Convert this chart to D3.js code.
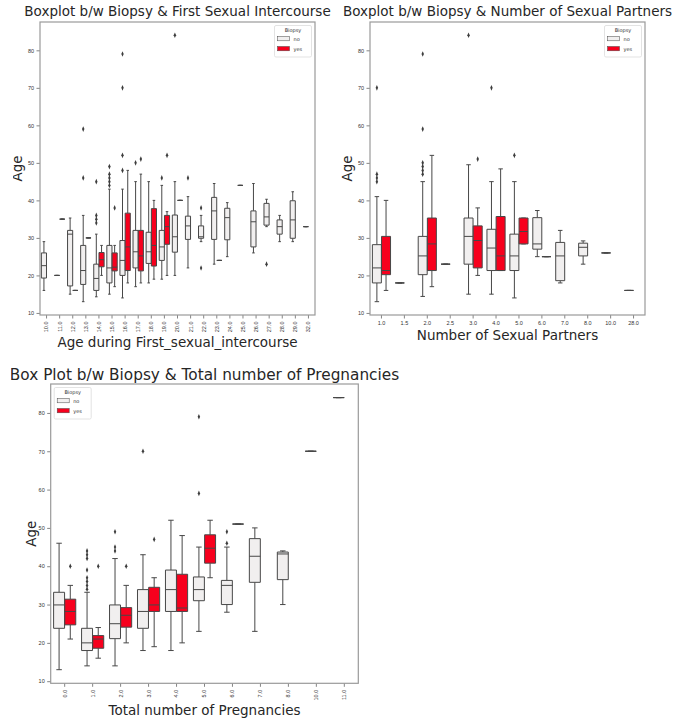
<!DOCTYPE html>
<html>
<head>
<meta charset="utf-8">
<script src="https://cdn.jsdelivr.net/npm/d3@7"></script>
<style>
  body { margin: 0; background: #fff; }
  svg { display: block; font-family: "DejaVu Sans", sans-serif; }
</style>
</head>
<body>
<svg id="chart" width="675" height="721"></svg>
<script>
// box stats are [lower whisker, q1, median, q3, upper whisker], null = no box

// Age during first sexual intercourse
const firstCats = ['10.0', '11.0', '12.0', '13.0', '14.0', '15.0', '16.0', '17.0', '18.0', '19.0', '20.0',
  '21.0', '22.0', '23.0', '24.0', '25.0', '26.0', '27.0', '28.0', '29.0', '32.0'];
const firstNo = [
  [16, 19.3, 22.6, 26, 29], [20, 20, 20, 20, 20], [15, 17.2, 31, 32, 35.3], [13, 17.6, 21.3, 28, 36],
  [14.3, 16, 19.2, 23, 31], [15, 18, 22, 28, 43], [14, 20, 24, 29.3, 43], [17, 22, 26.3, 32, 45],
  [18, 23.2, 26.3, 31.5, 45], [19, 24, 27.6, 32, 44], [20, 26.2, 30.3, 36.1, 45], [22, 29.6, 33.2, 35.8, 41],
  [29, 29.9, 30.3, 33.2, 36], [23, 29.6, 37.2, 40.8, 44.5], [25, 29.5, 35.4, 37.9, 39.4], [44, 44, 44, 44, 44],
  [26, 27.6, 34.3, 37.2, 44.5], [33, 33.4, 35.6, 39.2, 40.3], [29, 31, 33, 34.8, 36], [29, 29.9, 34.8, 39.9, 42.3],
  [33, 33, 33, 33, 33]];
const firstNoOut = [[], [], [], [46, 59], [34, 35, 36, 45], [44, 45, 46, 47, 49], [48, 52, 70, 79], [50], [], [46],
  [84], [46], [22, 38], [], [], [], [], [23], [], [], []];
const firstYes = [
  null, [35, 35, 35, 35, 35], [16, 16, 16, 16, 16], [30, 30, 30, 30, 30], [20, 22.3, 24.2, 26.1, 28],
  [17, 21.2, 22.2, 26, 28], [18, 21.3, 27.6, 36.6, 48], [18, 21.2, 25.2, 32, 47], [19, 22.5, 28, 37.8, 40],
  [20, 28.3, 33, 36, 37], [40, 40, 40, 40, 40], null, null, [24, 24, 24, 24, 24], null, null, null, null, null, null, null];
const firstYesOut = [[], [], [], [], [], [38], [], [51], [], [52], [], [], [], [], [], [], [], [], [], [], []];

// Number of sexual partners
const partnerCats = ['1.0', '1.5', '2.0', '2.5', '3.0', '4.0', '5.0', '6.0', '7.0', '8.0', '10.0', '28.0'];
const partnerNo = [
  [13, 18, 22, 28.2, 41], [18, 18, 18, 18, 18], [14.4, 20.2, 25.2, 30.4, 45], [23, 23, 23, 23, 23],
  [15, 23, 30.4, 35.3, 49.5], [15, 21.3, 27.3, 32.3, 45], [14, 21.3, 25.2, 31, 45], [25, 27, 28.4, 35.4, 37.3],
  [18, 18.6, 25.2, 28.8, 32], [23, 25.2, 27.5, 28.6, 29.2], [26, 26, 26, 26, 26], [16, 16, 16, 16, 16]];
const partnerNoOut = [[45, 46, 47, 70], [], [47, 48, 49, 50, 59, 79], [], [84], [70], [52], [], [], [], [], []];
const partnerYes = [
  [16, 20.2, 21.3, 30.4, 40], null, [17, 21.3, 28.4, 35.3, 52], null, [20, 22, 29.3, 33.2, 38],
  [21.3, 21.3, 25.2, 35.7, 48.4], [28.4, 28.4, 31.7, 35.3, 35.3], [25, 25, 25, 25, 25], null, null, null, null];
const partnerYesOut = [[], [], [], [], [51], [], [], [], [], [], [], []];

// Total number of pregnancies
const pregCats = ['0.0', '1.0', '2.0', '3.0', '4.0', '5.0', '6.0', '7.0', '8.0', '10.0', '11.0'];
const pregNo = [
  [13, 23.8, 29.9, 33.2, 46], [14, 18, 20, 23.8, 33.2], [14, 21.1, 25, 29.9, 42], [18, 23.8, 28.2, 33.9, 43],
  [18, 28.2, 33.9, 39, 52], [23, 31, 33.9, 37.2, 45], [28, 30, 35, 36.3, 45], [23, 35.8, 42.6, 47.2, 50],
  [30, 36.5, 43.2, 43.7, 44], [70, 70, 70, 70, 70], [84, 84, 84, 84, 84]];
const pregNoOut = [[], [34, 35, 36, 37, 39, 42, 43, 44], [44, 45, 49], [70], [], [59, 79], [46, 49], [], [], [], []];
const pregYes = [
  [21, 24.7, 28.2, 31.4, 35], [16, 18.6, 21, 21.9, 24], [20, 24.1, 27.2, 29.2, 35], [19, 28.2, 29.9, 34.5, 37],
  [20, 28.2, 29.1, 37.9, 48], [37, 40.8, 44.7, 48.2, 52], [51, 51, 51, 51, 51], null, null, null, null];
const pregYesOut = [[40], [40], [40], [47], [], [], [], [], [], [], []];

const yTicks = [10, 20, 30, 40, 50, 60, 70, 80];
const ageDomain = [9.45, 87.55];

const colorNo = '#f1efef';
const colorYes = '#f7001d';
const lineColor = '#474747';

const svg = d3.select('#chart');
const defs = svg.append('defs');

function drawBoxplot(o) {
  // the screenshot crops each figure on its left side
  defs.append('clipPath').attr('id', o.id)
    .append('rect').attr('x', o.clipX).attr('y', 0).attr('width', 675 - o.clipX).attr('height', 721);
  const g = svg.append('g').attr('clip-path', `url(#${o.id})`);

  const x = d3.scaleBand().domain(o.cats).range([o.left, o.right]);
  const y = d3.scaleLinear().domain(ageDomain).range([o.bottom, o.top]);
  const bw = x.bandwidth();
  const boxW = bw * 0.4 * 0.98;

  // axes
  const yAxis = g.append('g')
    .attr('transform', `translate(${o.left},0)`)
    .call(d3.axisLeft(y).tickValues(yTicks).tickSize(3.5).tickPadding(2.5));
  yAxis.selectAll('text').attr('font-size', 5.5).attr('fill', '#333');

  const xAxis = g.append('g')
    .attr('transform', `translate(0,${o.bottom})`)
    .call(d3.axisBottom(x).tickSize(3.5).tickPadding(2.5));
  xAxis.selectAll('text').attr('font-size', 5.5).attr('fill', '#333');
  if (o.rotate) {
    xAxis.selectAll('text')
      .attr('transform', 'rotate(-90)')
      .attr('text-anchor', 'end')
      .attr('dy', '0.35em')
      .attr('x', -6.5)
      .attr('y', 0);
  }
  g.selectAll('.domain').remove();
  g.selectAll('.tick line').attr('stroke', '#666').attr('stroke-width', 0.8);

  // boxes
  const series = [
    { stats: o.no, out: o.noOut, off: -0.2, fill: colorNo },
    { stats: o.yes, out: o.yesOut, off: 0.2, fill: colorYes }
  ];
  series.forEach(s => {
    o.cats.forEach((c, i) => {
      const st = s.stats[i];
      const cx = x(c) + bw / 2 + s.off * bw;
      if (st) {
        const [lo, q1, med, q3, hi] = st;
        const bg = g.append('g').attr('stroke', lineColor).attr('stroke-width', 1).attr('fill', 'none');
        bg.append('line').attr('x1', cx).attr('x2', cx).attr('y1', y(q3)).attr('y2', y(hi));
        bg.append('line').attr('x1', cx).attr('x2', cx).attr('y1', y(q1)).attr('y2', y(lo));
        bg.append('line').attr('x1', cx - boxW / 4).attr('x2', cx + boxW / 4).attr('y1', y(hi)).attr('y2', y(hi));
        bg.append('line').attr('x1', cx - boxW / 4).attr('x2', cx + boxW / 4).attr('y1', y(lo)).attr('y2', y(lo));
        const p = d3.path();
        p.rect(cx - boxW / 2, y(q3), boxW, y(q1) - y(q3));
        bg.append('path').attr('d', p.toString()).attr('fill', s.fill);
        bg.append('line').attr('x1', cx - boxW / 2).attr('x2', cx + boxW / 2).attr('y1', y(med)).attr('y2', y(med));
      }
      g.selectAll(null)
        .data(s.out[i])
        .join('path')
        .attr('d', d3.symbol(d3.symbolDiamond, 9))
        .attr('transform', d => `translate(${cx},${y(d)}) scale(0.75,1)`)
        .attr('fill', '#3d3d3d');
    });
  });

  // frame
  g.append('rect')
    .attr('x', o.left).attr('y', o.top)
    .attr('width', o.right - o.left).attr('height', o.bottom - o.top)
    .attr('fill', 'none').attr('stroke', '#9a9a9a').attr('stroke-width', 1.2);

  // title and labels
  g.append('text')
    .attr('x', (o.left + o.right) / 2).attr('y', o.titleY)
    .attr('text-anchor', 'middle').attr('font-size', o.titleSize).attr('fill', '#262626')
    .text(o.title);
  g.append('text')
    .attr('x', (o.left + o.right) / 2).attr('y', o.xlabelY)
    .attr('text-anchor', 'middle').attr('font-size', 13.5).attr('fill', '#262626')
    .text(o.xlabel);
  g.append('text')
    .attr('transform', `translate(${o.ylabelX},${(o.top + o.bottom) / 2}) rotate(-90)`)
    .attr('text-anchor', 'middle').attr('font-size', 13.5).attr('fill', '#262626')
    .text('Age');

  // legend
  const lw = 37, lh = 31.5;
  const lx = o.legendLeft ? o.left + 3.5 : o.right - 3.5 - lw;
  const ly = o.top + 3.5;
  const lg = g.append('g').attr('transform', `translate(${lx},${ly})`);
  lg.append('rect').attr('width', lw).attr('height', lh).attr('rx', 1.5)
    .attr('fill', '#fff').attr('stroke', '#dcdcdc').attr('stroke-width', 0.8);
  lg.append('text').attr('x', lw / 2).attr('y', 6.5).attr('text-anchor', 'middle')
    .attr('font-size', 5).attr('fill', '#333').text('Biopsy');
  [['no', colorNo], ['yes', colorYes]].forEach(([lab, col], k) => {
    lg.append('rect').attr('x', 3).attr('y', 11 + k * 10).attr('width', 12).attr('height', 4.3)
      .attr('fill', col).attr('stroke', lineColor).attr('stroke-width', 0.5);
    lg.append('text').attr('x', 19).attr('y', 15 + k * 10)
      .attr('font-size', 5).attr('fill', '#333').text(lab);
  });
}

drawBoxplot({
  id: 'clipFirst', clipX: 13,
  cats: firstCats, no: firstNo, noOut: firstNoOut, yes: firstYes, yesOut: firstYesOut,
  left: 40, right: 315, top: 22, bottom: 315, rotate: true,
  title: 'Boxplot b/w Biopsy & First Sexual Intercourse', titleY: 16, titleSize: 13.5,
  xlabel: 'Age during First_sexual_intercourse', xlabelY: 347, ylabelX: 22
});

drawBoxplot({
  id: 'clipPartner', clipX: 336,
  cats: partnerCats, no: partnerNo, noOut: partnerNoOut, yes: partnerYes, yesOut: partnerYesOut,
  left: 370, right: 645, top: 22, bottom: 315, rotate: false,
  title: 'Boxplot b/w Biopsy & Number of Sexual Partners', titleY: 16, titleSize: 13.5,
  xlabel: 'Number of Sexual Partners', xlabelY: 340, ylabelX: 352
});

drawBoxplot({
  id: 'clipPreg', clipX: 11,
  cats: pregCats, no: pregNo, noOut: pregNoOut, yes: pregYes, yesOut: pregYesOut,
  left: 50.7, right: 358.3, top: 384, bottom: 683.3, rotate: true, legendLeft: true,
  title: 'Box Plot b/w Biopsy & Total number of Pregnancies', titleY: 380, titleSize: 15.3,
  xlabel: 'Total number of Pregnancies', xlabelY: 715, ylabelX: 36
});
</script>
</body>
</html>
